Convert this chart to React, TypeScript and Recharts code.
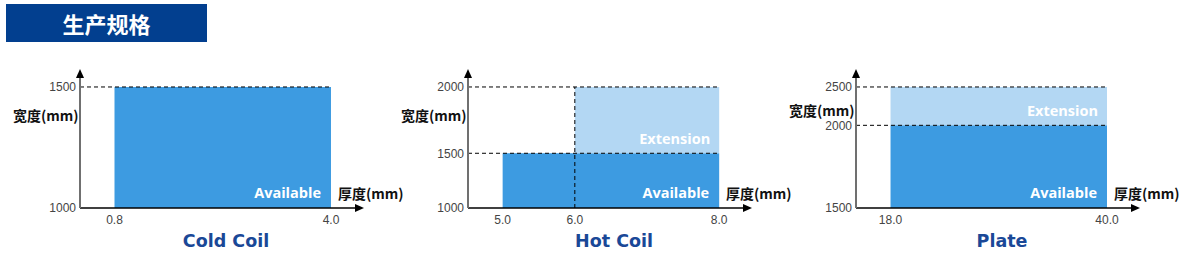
import React from 'react';
import { ComposedChart, XAxis, YAxis, ReferenceArea, ReferenceLine } from 'recharts';

const products = ['Cold Coil', 'Hot Coil', 'Plate'];
const thicknessTicks = [[0.8, 4.0], [5.0, 6.0, 8.0], [18.0, 40.0]];
const widthTicks = [[1000, 1500], [1000, 1500, 2000], [1500, 2000, 2500]];
const availableThickness = [[0.8, 4.0], [5.0, 8.0], [18.0, 40.0]];
const availableWidth = [[1000, 1500], [1000, 1500], [1500, 2000]];
const extensionThickness: (number[] | null)[] = [null, [6.0, 8.0], [18.0, 40.0]];
const extensionWidth: (number[] | null)[] = [null, [1500, 2000], [2000, 2500]];

// panel layout: axis extents (arrow room) and the schematic width axis
const xDomains = [[0.29, 4.355], [4.52, 8.33], [14.49, 42.44]];
const yTops = [1540, 2070, 2570];
const yShares = [[0, 0.931, 1], [0, 0.421, 0.931, 1], [0, 0.636, 0.931, 1]];
// 宽度 label baseline, raised on Plate so it clears the 2000 tick
const yLabelBase = [121, 121, 116];

const AVAILABLE = '#3d9be1';
const EXTENSION = '#b3d7f3';
const NAVY = '#1a4897';

// piecewise linear scale, the width axis in the drawings is not to scale
function brokenScale(stops: number[], shares: number[]): any {
  let dom = [stops[0], stops[stops.length - 1]];
  let rng = [0, 1];
  const s: any = (v: number) => {
    let i = 0;
    while (i < stops.length - 2 && v > stops[i + 1]) i++;
    const t = (v - stops[i]) / (stops[i + 1] - stops[i]);
    const f = shares[i] + t * (shares[i + 1] - shares[i]);
    return rng[0] + f * (rng[1] - rng[0]);
  };
  s.domain = (d?: number[]) => {
    if (d === undefined) return dom;
    dom = d.slice();
    return s;
  };
  s.range = (r?: number[]) => {
    if (r === undefined) return rng;
    rng = r.slice();
    return s;
  };
  s.copy = () => brokenScale(stops, shares).domain(dom).range(rng);
  s.ticks = () => stops.slice(0, -1);
  return s;
}

const tickStyle = { fontFamily: 'Liberation Sans', fontSize: 12, fill: '#444' };
const cjkLabel = { fontFamily: 'Noto Sans CJK SC', fontSize: 14, fontWeight: 700, fill: '#111' };
const areaLabel = { fill: '#fff', fontSize: 14.5, fontWeight: 700, fontFamily: 'Open Sans' };

function Panel({ i }: { i: number }) {
  const ticksY = widthTicks[i];
  const yScale = brokenScale([...ticksY, yTops[i]], yShares[i]);
  const xMin = xDomains[i][0];
  const ext = extensionThickness[i];
  const extW = extensionWidth[i];
  const right = availableThickness[i][1];
  const topW = extW ? extW[1] : availableWidth[i][1];

  return (
    <ComposedChart width={420} height={262} margin={{ top: 78, right: 65, bottom: 24, left: 20 }}>
      <defs>
        <marker id={`arr${i}`} markerWidth="9" markerHeight="8" refX="0" refY="4" orient="auto-start-reverse" markerUnits="userSpaceOnUse">
          <path d="M0,0 L9,4 L0,8 z" fill="#000" />
        </marker>
      </defs>
      <XAxis
        type="number"
        dataKey="x"
        domain={xDomains[i]}
        allowDataOverflow
        ticks={thicknessTicks[i]}
        tickFormatter={(v: number) => v.toFixed(1)}
        axisLine={{ stroke: '#000', strokeWidth: 1.5, markerEnd: `url(#arr${i})` }}
        tickLine={false}
        tickSize={0}
        tickMargin={7}
        tick={tickStyle}
        height={30}
      />
      <YAxis
        type="number"
        dataKey="y"
        domain={[ticksY[0], yTops[i]]}
        allowDataOverflow
        scale={yScale}
        ticks={ticksY}
        axisLine={{ stroke: '#707070', strokeWidth: 2, markerStart: `url(#arr${i})` }}
        tickLine={false}
        tickSize={0}
        tickMargin={4}
        tick={tickStyle}
        width={60}
      />
      <ReferenceArea
        x1={availableThickness[i][0]}
        x2={availableThickness[i][1]}
        y1={availableWidth[i][0]}
        y2={availableWidth[i][1]}
        fill={AVAILABLE}
        fillOpacity={1}
        stroke="none"
        label={{ value: 'Available', position: 'insideBottomRight', offset: 10, ...areaLabel }}
      />
      {ext && extW && (
        <ReferenceArea
          x1={ext[0]}
          x2={ext[1]}
          y1={extW[0]}
          y2={extW[1]}
          fill={EXTENSION}
          fillOpacity={1}
          stroke="none"
          label={{ value: 'Extension', position: 'insideBottomRight', offset: 9, ...areaLabel }}
        />
      )}
      {ticksY.slice(1).map((w) => (
        <ReferenceLine
          key={w}
          segment={[{ x: xMin, y: w }, { x: right, y: w }]}
          stroke="#000"
          strokeDasharray="4 3"
        />
      ))}
      {ext && ext[0] !== availableThickness[i][0] && (
        <ReferenceLine
          segment={[{ x: ext[0], y: ticksY[0] }, { x: ext[0], y: topW }]}
          stroke="#000"
          strokeDasharray="4 3"
        />
      )}
      <text x={13} y={yLabelBase[i]} {...cjkLabel}>宽度(mm)</text>
      <text x={338} y={199} {...cjkLabel}>厚度(mm)</text>
      <text x={226} y={247} textAnchor="middle" fontFamily="DejaVu Sans" fontWeight={700} fontSize={17.5} fill={NAVY}>
        {products[i]}
      </text>
    </ComposedChart>
  );
}

export default function App() {
  return (
    <div style={{ position: 'absolute', left: 0, top: 0, width: 1200, height: 262, background: '#fff' }}>
      <div
        style={{
          position: 'absolute', left: 6, top: 4, width: 201, height: 38, background: '#023f8f',
          color: '#fff', display: 'flex', alignItems: 'center', justifyContent: 'center',
          fontFamily: 'Noto Sans CJK SC', fontWeight: 700, fontSize: 22,
        }}
      >
        生产规格
      </div>
      {products.map((p, i) => (
        <div key={p} style={{ position: 'absolute', left: i * 388, top: 0 }}>
          <Panel i={i} />
        </div>
      ))}
    </div>
  );
}
